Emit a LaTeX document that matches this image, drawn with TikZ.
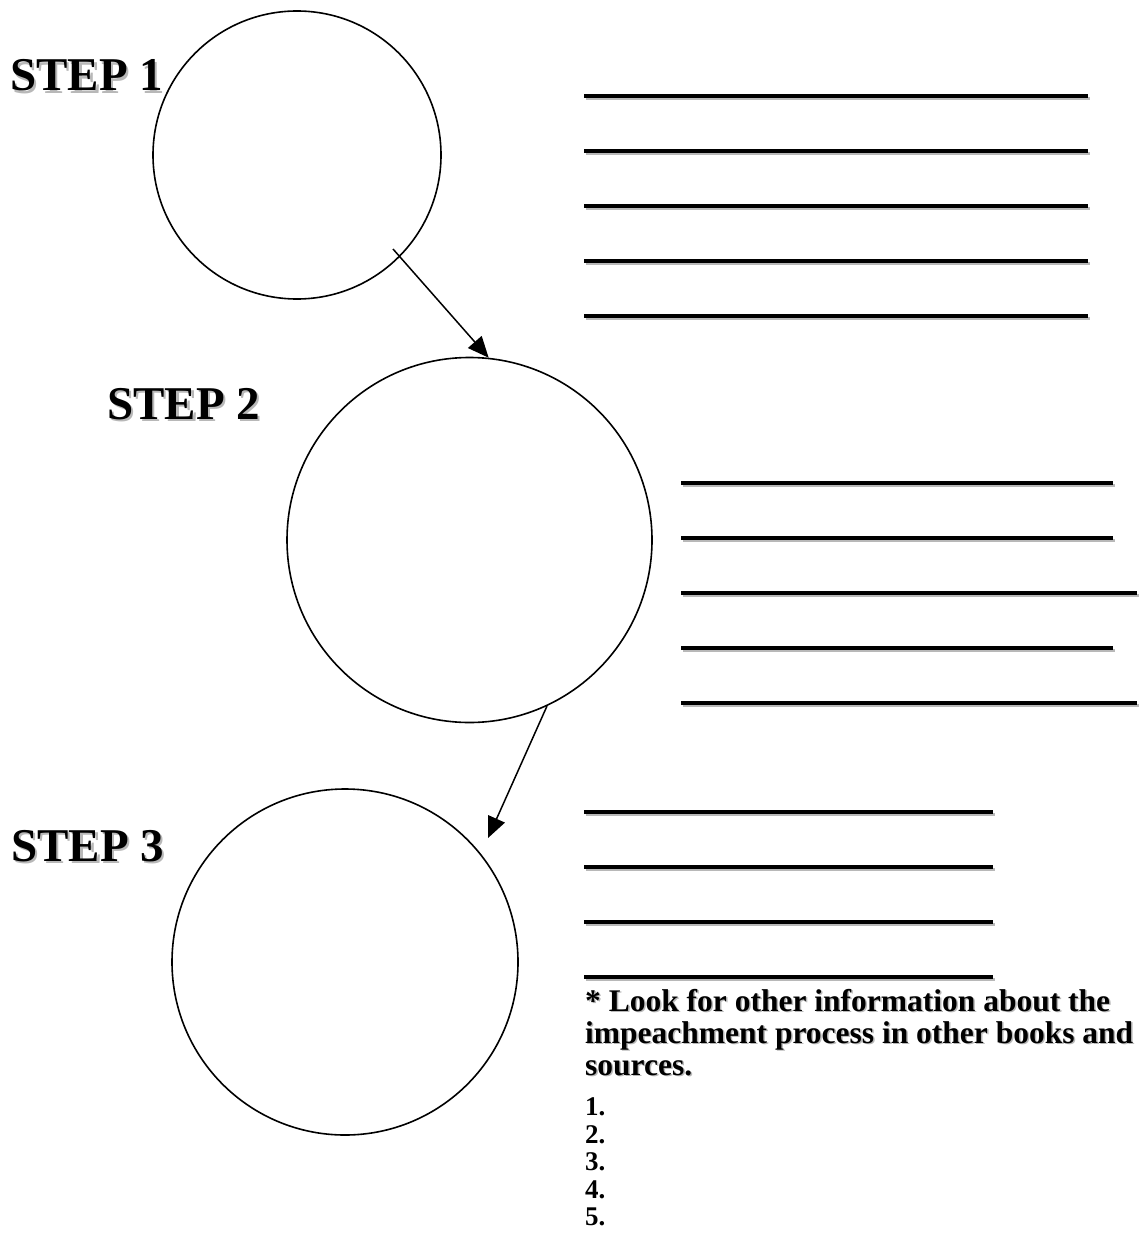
\documentclass[tikz,border=0pt]{standalone}
\usepackage{fontspec}
\setmainfont{Liberation Serif}
\usetikzlibrary{arrows.meta}
\definecolor{shade}{gray}{0.72}
\tikzset{
  ring/.style={circle, draw, line width=1.6pt, inner sep=0pt},
  flow/.style={line width=1.5pt, -{Triangle[length=21pt,width=18pt]}},
  blank/.style={line width=3.4pt},
  blankshadow/.style={line width=3.4pt, draw=shade},
  steplabel/.style={anchor=base west, inner sep=0pt, font=\fontsize{47}{50}\selectfont\bfseries},
  notetext/.style={anchor=base west, inner sep=0pt, font=\fontsize{31.5}{33}\selectfont\bfseries},
  numtext/.style={anchor=base west, inner sep=0pt, font=\fontsize{27}{28}\selectfont\bfseries}
}
\newcommand{\blankline}[3]{%
  \draw[blankshadow] (#1+1.5,#3+2.5) -- (#2+1.5,#3+2.5);
  \draw[blank] (#1,#3) -- (#2,#3);}
\begin{document}
\begin{tikzpicture}[x=1pt,y=-1pt]
\useasboundingbox (0,0) rectangle (1138,1241);
% circles
\node[ring, minimum size=288pt] (c1) at (297,155) {};
\node[ring, minimum size=365pt] (c2) at (469.5,540) {};
\node[ring, minimum size=346pt] (c3) at (345,962) {};
% step labels with shadow
\node[steplabel, text=shade] (s1s) at (12.5,93.5) {STEP 1};
\node[steplabel] (s1) at (10,91) {STEP 1};
\node[steplabel, text=shade] (s2s) at (109.5,421.5) {STEP 2};
\node[steplabel] (s2) at (107,419) {STEP 2};
\node[steplabel, text=shade] (s3s) at (13.5,863.5) {STEP 3};
\node[steplabel] (s3) at (11,861) {STEP 3};
% arrows
\coordinate (a1s) at (393,249);
\coordinate (a2e) at (488,838);
\draw[flow] (a1s) -- (c2.84.5);
\draw[flow] (c2.-65) -- (a2e);
% blank lines, top group
\foreach \y in {96,151,206,261,316} {\blankline{584}{1088}{\y}}
% middle group
\foreach \y in {483,538,648} {\blankline{681}{1113}{\y}}
\foreach \y in {593,703} {\blankline{681}{1137}{\y}}
% bottom group
\foreach \y in {812,867,922,977} {\blankline{584}{993}{\y}}
% note text
\node[notetext, text=shade] (n1s) at (586.5,1012.5) {* Look for other information about the};
\node[notetext] (n1) at (585,1011) {* Look for other information about the};
\node[notetext, text=shade] (n2s) at (586.5,1044.5) {impeachment process in other books and};
\node[notetext] (n2) at (585,1043) {impeachment process in other books and};
\node[notetext, text=shade] (n3s) at (586.5,1076.5) {sources.};
\node[notetext] (n3) at (585,1075) {sources.};
\node[numtext] (l1) at (585,1115) {1.};
\node[numtext] (l2) at (585,1143) {2.};
\node[numtext] (l3) at (585,1170) {3.};
\node[numtext] (l4) at (585,1198) {4.};
\node[numtext] (l5) at (585,1225) {5.};
\end{tikzpicture}
\end{document}
